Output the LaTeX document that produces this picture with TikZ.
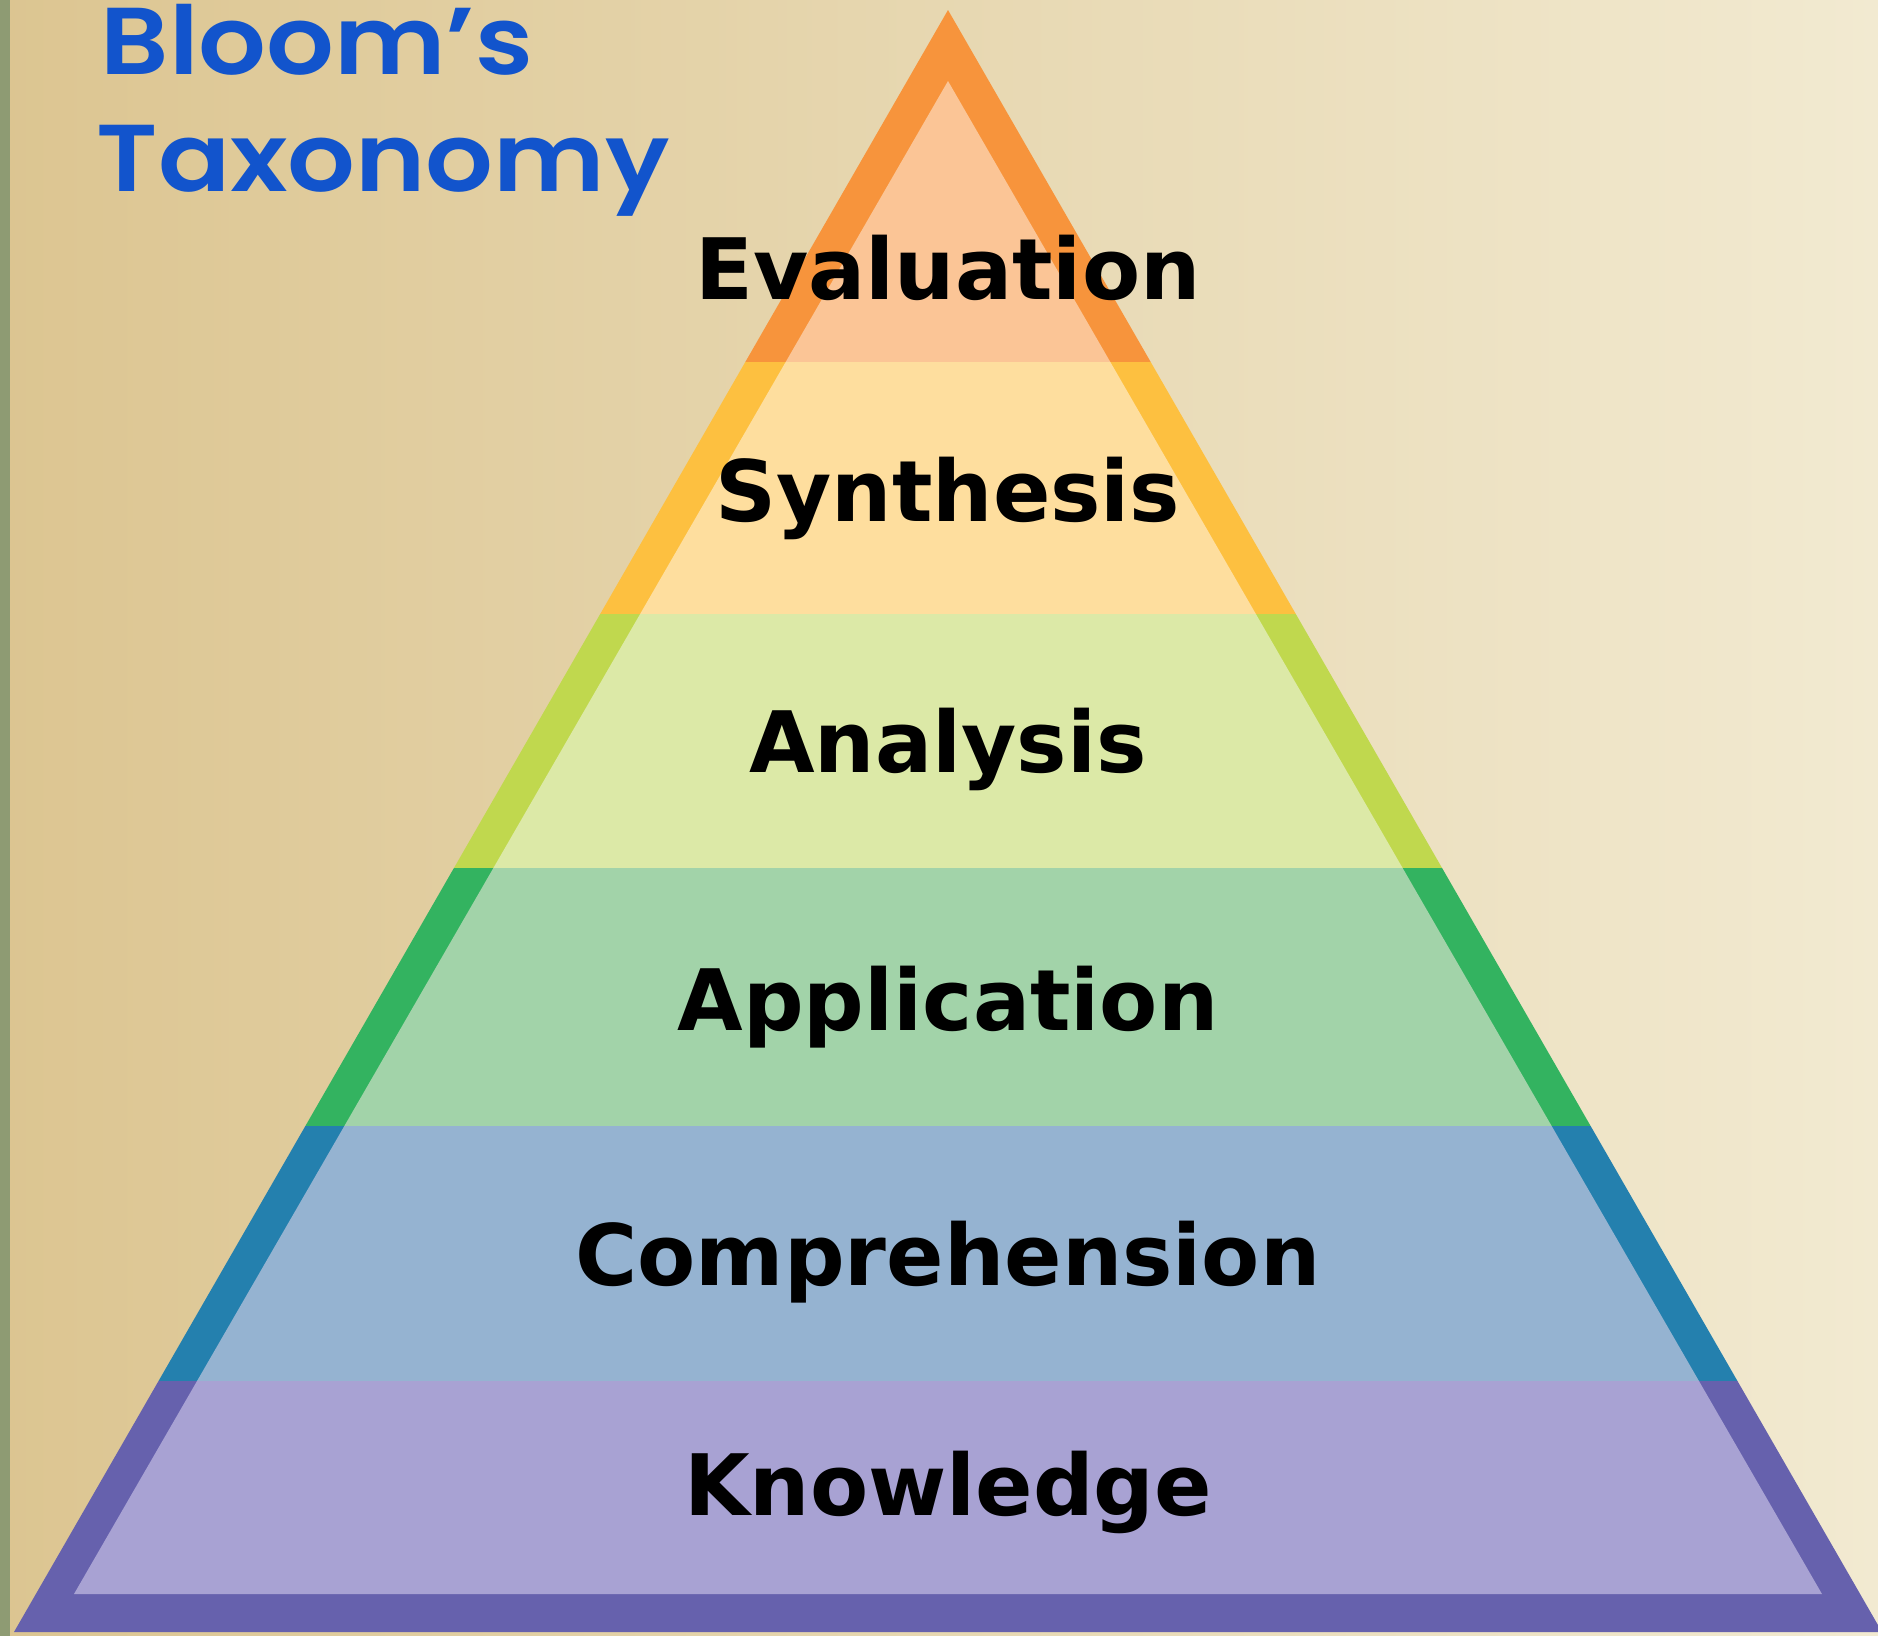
\documentclass[tikz,border=0pt]{standalone}
\usepackage{fontspec}
\newfontfamily\labelfont{DejaVu Sans}
\newfontfamily\titlefont{Poppins}[FakeStretch=1.12,BoldFont={* SemiBold}]
\definecolor{paperL}{HTML}{DCC591}
\definecolor{paperM}{HTML}{EBDDB4}
\definecolor{paperR}{HTML}{F2EAD1}
\definecolor{paperEdge}{HTML}{8E9B73}
\definecolor{titleblue}{HTML}{1254CC}
\definecolor{evalDark}{HTML}{F7943C}
\definecolor{evalLight}{HTML}{FBC596}
\definecolor{synthDark}{HTML}{FDC040}
\definecolor{synthLight}{HTML}{FEDE9E}
\definecolor{analDark}{HTML}{C0D84E}
\definecolor{analLight}{HTML}{DCE9A7}
\definecolor{applDark}{HTML}{33B360}
\definecolor{applLight}{HTML}{A2D3A9}
\definecolor{compDark}{HTML}{2480AE}
\definecolor{compLight}{HTML}{95B3D1}
\definecolor{knowDark}{HTML}{6661AD}
\definecolor{knowLight}{HTML}{A8A2D3}
\tikzset{
  level label/.style={anchor=base,inner sep=0pt,font=\labelfont\bfseries\fontsize{24.1pt}{28pt}\selectfont},
  title text/.style={anchor=base west,inner sep=0pt,text=titleblue,font=\titlefont\bfseries\fontsize{27pt}{32pt}\selectfont}
}
\begin{document}
\begin{tikzpicture}[x=0.01cm,y=-0.01cm]
\useasboundingbox (0,0) rectangle (1878,1636);
% paper
\fill [left color=paperL,middle color=paperM,right color=paperR] (0,0) rectangle (1878,1636);
\fill [paperEdge] (0,0) rectangle (10,1636);
% pyramid corners
\coordinate (apex) at (948,10);
\coordinate (bl) at (14,1632);
\coordinate (br) at (1882,1632);
\coordinate (iapex) at (948,81);
\coordinate (ibl) at (74,1594);
\coordinate (ibr) at (1822,1594);
% outer bands
\begin{scope}
\clip (apex) -- (bl) -- (br) -- cycle;
\foreach \ya/\yb/\lvl in {0/362/eval,362/614/synth,614/868/anal,868/1126/appl,1126/1381/comp,1381/1640/know}
  \fill [\lvl Dark] (0,\ya) rectangle (1878,\yb);
\end{scope}
% inner bands
\begin{scope}
\clip (iapex) -- (ibl) -- (ibr) -- cycle;
\foreach \ya/\yb/\lvl in {0/362/eval,362/614/synth,614/868/anal,868/1126/appl,1126/1381/comp,1381/1640/know}
  \fill [\lvl Light] (0,\ya) rectangle (1878,\yb);
\end{scope}
% labels
\node [level label] (eval) at (948,299) {Evaluation};
\node [level label] (synth) at (948,521) {Synthesis};
\node [level label] (anal) at (948,772) {Analysis};
\node [level label] (appl) at (948,1030) {Application};
\node [level label] (comp) at (948,1285) {Comprehension};
\node [level label] (know) at (948,1515) {Knowledge};
% title
\node [title text] (bloom) at (100,74) {Bloom’s};
\node [title text] (taxo) at (96,191) {Taxonomy};
\end{tikzpicture}
\end{document}
